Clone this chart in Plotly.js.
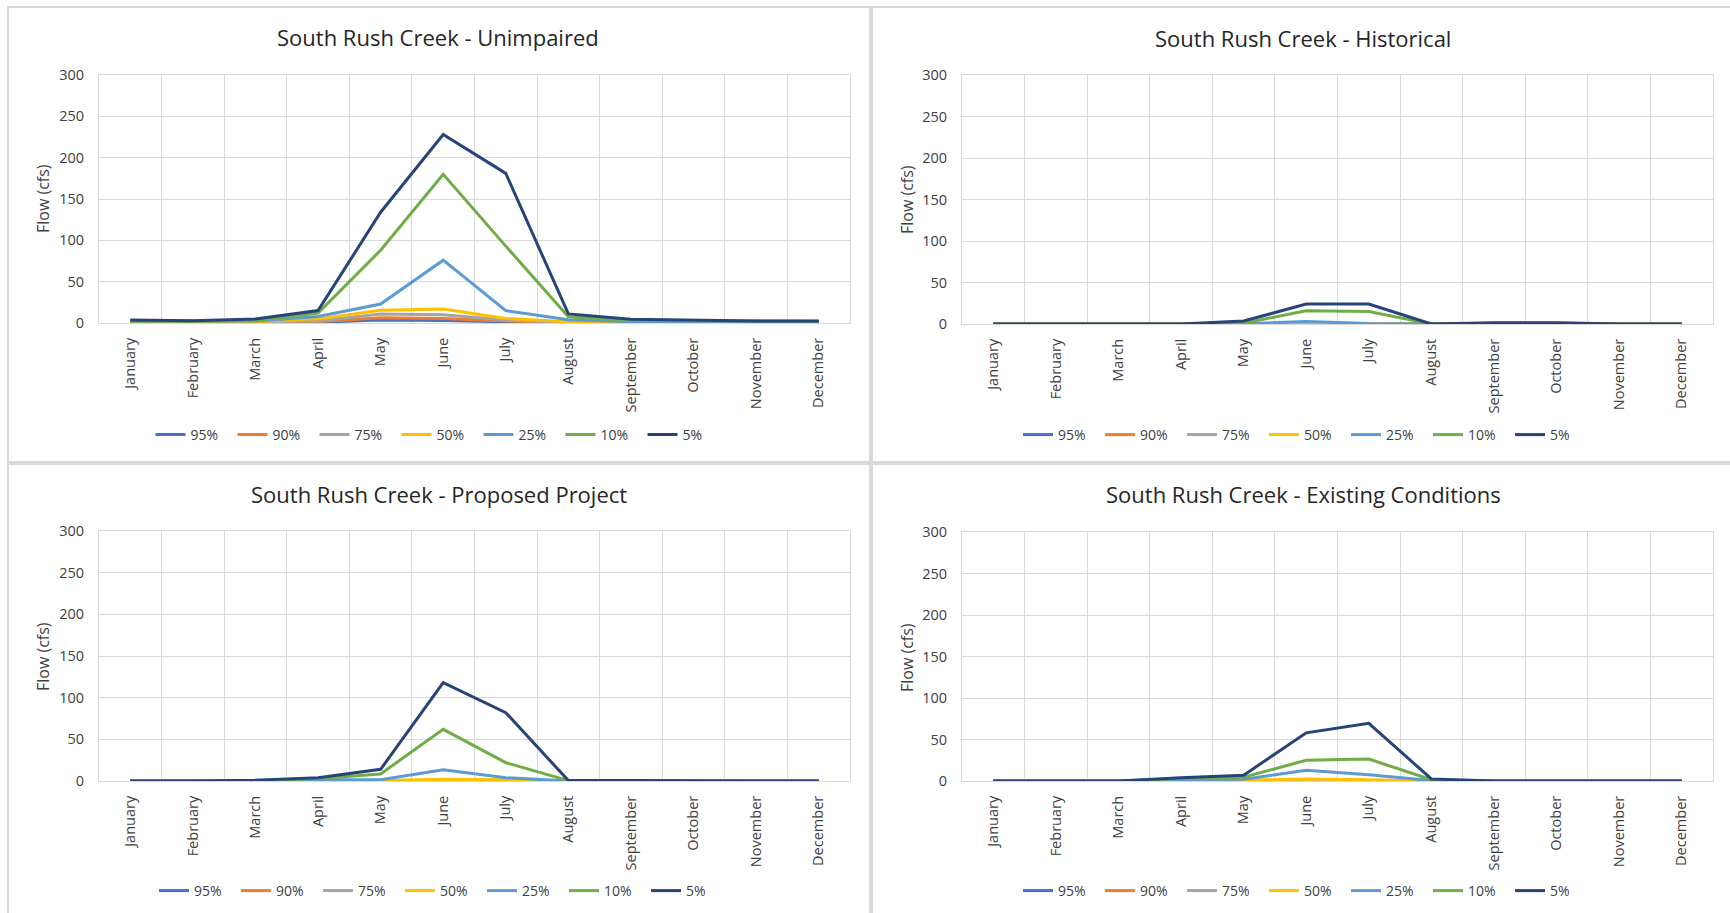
<!DOCTYPE html>
<html>
<head>
<meta charset="utf-8">
<script src="https://cdn.plot.ly/plotly-3.0.1.min.js"></script>
<style>html,body{margin:0;padding:0;background:#fff;}#chart{width:1730px;height:913px;}</style>
</head>
<body>
<div id="chart"></div>
<script>
// ---- data ----
const months = ["January","February","March","April","May","June","July","August","September","October","November","December"];
const seriesNames = ["95%","90%","75%","50%","25%","10%","5%"];
const seriesColors = ["#4472C4","#ED7D31","#A5A5A5","#FFC000","#5B9BD5","#70AD47","#264478"];
const panelTitles = ["South Rush Creek - Unimpaired","South Rush Creek - Historical","South Rush Creek - Proposed Project","South Rush Creek - Existing Conditions"];

// Unimpaired
const u95 = [0.5,0.5,0.5,1,3.5,3,1.5,0.3,0.3,0.3,0.3,0.3];
const u90 = [0.8,0.7,0.8,1.5,6.5,5.5,2.4,0.5,0.5,0.5,0.5,0.5];
const u75 = [1,1,1.2,2.5,11,10,3.5,0.8,0.6,0.6,0.6,0.6];
const u50 = [1.5,1.2,1.8,5,15.5,17,5.5,1.5,1,1,1,1];
const u25 = [2,1.8,2.5,8,23,76,15,4,1.5,1.5,1.5,1.5];
const u10 = [2.5,2,3,12,88,180,93,7.5,3,2.5,2,2];
const u5  = [3.5,2.8,4.8,15,134,228,181,11,4.5,3.5,2.5,2.5];
// Historical
const h95 = [0,0,0,0,0,0,0,0,0,0,0,0];
const h90 = [0,0,0,0,0,0,0,0,0,0,0,0];
const h75 = [0,0,0,0,0,0.3,0,0,0,0,0,0];
const h50 = [0,0,0,0,0,1,0.3,0,0,0,0,0];
const h25 = [0,0,0,0,0.3,3,0.5,0,0.3,0.3,0,0];
const h10 = [0,0,0,0,1,16,15,0,1,1,0,0];
const h5  = [0,0,0,0,3.6,24,24,0,1.5,1.5,0,0];
// Proposed Project
const p95 = [0,0,0,0,0,0,0,0,0,0,0,0];
const p90 = [0,0,0,0,0,0.3,0,0,0,0,0,0];
const p75 = [0,0,0,0,0.2,0.8,0.5,0,0,0,0,0];
const p50 = [0,0,0,0.3,0.5,2,1.5,0,0,0,0,0];
const p25 = [0,0,0.3,1.5,1.5,13.5,4,0,0,0,0,0];
const p10 = [0,0,0.5,3,8.5,62,22,0.5,0.3,0,0,0];
const p5  = [0,0,1,4,14,118,82,0.5,0.5,0,0,0];
// Existing Conditions
const e95 = [0,0,0,0,0,0,0,0,0,0,0,0];
const e90 = [0,0,0,0,0,0.3,0,0,0,0,0,0];
const e75 = [0,0,0,0.2,0.5,1,0.5,0,0,0,0,0];
const e50 = [0,0,0,0.5,1,2.5,1.5,0,0,0,0,0];
const e25 = [0,0,0,1.5,2,13,7.5,0.5,0,0,0,0];
const e10 = [0,0,0,3,4.5,25,26.5,1.5,0,0,0,0];
const e5  = [0,0,0,4,7,58,69.5,2.5,0,0,0,0];

const panelData = [
  [u95,u90,u75,u50,u25,u10,u5],
  [h95,h90,h75,h50,h25,h10,h5],
  [p95,p90,p75,p50,p25,p10,p5],
  [e95,e90,e75,e50,e25,e10,e5]
];

// ---- layout helpers (pixel -> paper) ----
const W = 1730, H = 913;
const px = v => v / W;
const py = v => 1 - v / H;

// plot areas in pixels: [left, right, top, bottom]
const areas = [
  [99, 850, 75, 323],
  [962, 1713, 75, 324],
  [99, 850, 531, 781],
  [962, 1713, 532, 781]
];
const titlePos = [[438,37],[1303,38],[439,494],[1303,494]];
const yTitlePos = [[43,199],[907,200],[43,657],[907,658]];
const legendPos = [[437.5,435],[1305,435],[441,891],[1305,891]];
const panels = [[8,7,870,462],[872,7,1731,462],[8,464,870,914],[872,464,1731,914]];

const FONT = "Open Sans, Noto Sans, DejaVu Sans, sans-serif";
const GRID = "#d9d9d9";
const TXT = "#404040";

const traces = [];
const layout = {
  width: W, height: H,
  margin: {l:0, r:0, t:0, b:0},
  paper_bgcolor: "#ffffff",
  plot_bgcolor: "#ffffff",
  showlegend: true,
  font: {family: FONT, color: TXT, size: 14},
  annotations: [],
  shapes: []
};

panelData.forEach((set, p) => {
  const sfx = p === 0 ? "" : String(p + 1);
  const legName = p === 0 ? "legend" : "legend" + (p + 1);
  set.forEach((vals, i) => {
    traces.push({
      type: "scatter", mode: "lines",
      x: months, y: vals,
      name: seriesNames[i],
      xaxis: "x" + sfx, yaxis: "y" + sfx,
      legend: legName,
      line: {color: seriesColors[i], width: 3},
      hoverinfo: "x+y+name"
    });
  });
  const a = areas[p];
  layout["xaxis" + sfx] = {
    domain: [px(a[0]), px(a[1])],
    anchor: "y" + sfx,
    type: "category",
    categoryorder: "array", categoryarray: months,
    range: [-0.5, 11.5],
    tickson: "boundaries",
    showgrid: true, gridcolor: GRID, gridwidth: 1,
    showline: true, linecolor: GRID, linewidth: 1, mirror: true,
    ticks: "", tickangle: -90,
    ticklabelstandoff: 8,
    tickfont: {family: FONT, size: 14.5, color: TXT},
    fixedrange: true
  };
  layout["yaxis" + sfx] = {
    domain: [py(a[3]), py(a[2])],
    anchor: "x" + sfx,
    range: [0, 300], dtick: 50, tick0: 0,
    showgrid: true, gridcolor: GRID, gridwidth: 1,
    showline: true, linecolor: GRID, linewidth: 1, mirror: true,
    zeroline: false,
    ticks: "", ticklabelstandoff: 11,
    tickfont: {family: FONT, size: 14.5, color: TXT},
    fixedrange: true
  };
  layout[legName] = {
    orientation: "h",
    x: px(legendPos[p][0]), xanchor: "center",
    y: py(legendPos[p][1]), yanchor: "middle",
    font: {family: FONT, size: 14, color: TXT},
    bgcolor: "rgba(0,0,0,0)",
    itemwidth: 30,
    entrywidth: 37, entrywidthmode: "pixels",
    traceorder: "normal"
  };
  layout.annotations.push({
    text: panelTitles[p], xref: "paper", yref: "paper",
    x: px(titlePos[p][0]), y: py(titlePos[p][1]),
    xanchor: "center", yanchor: "middle", showarrow: false,
    font: {family: FONT, size: 22, color: "#262626"}
  });
  layout.annotations.push({
    text: "Flow (cfs)", xref: "paper", yref: "paper",
    x: px(yTitlePos[p][0]), y: py(yTitlePos[p][1]),
    xanchor: "center", yanchor: "middle", showarrow: false, textangle: -90,
    font: {family: FONT, size: 16, color: TXT}
  });
  const b = panels[p];
  layout.shapes.push({
    type: "rect", xref: "paper", yref: "paper",
    x0: px(b[0]), x1: px(b[2]), y0: py(b[3]), y1: py(b[1]),
    line: {color: GRID, width: 2}, fillcolor: "rgba(0,0,0,0)", layer: "below"
  });
});

Plotly.newPlot("chart", traces, layout, {displayModeBar: false, staticPlot: true});
</script>
</body>
</html>
